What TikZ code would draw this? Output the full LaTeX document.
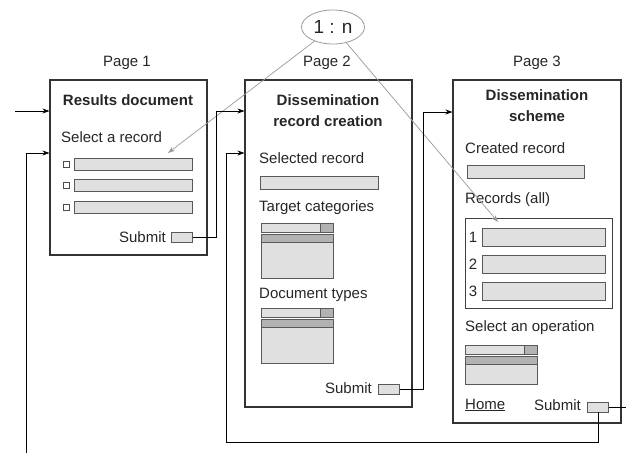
\documentclass[tikz,border=0pt]{standalone}
\usepackage{fontspec}
\setmainfont{Liberation Sans}
\usetikzlibrary{shapes.geometric,arrows.meta}

% list box with a drop-down bar on top: x, top y, width, body height
\newcommand{\listwidget}[4]{%
    \draw[field] (#1,#2) rectangle ++(#3,9);
    \draw[field, fill=black!30] (#1+#3-13,#2) rectangle ++(13,9);
    \draw[field] (#1,#2+11) rectangle ++(#3,#4);
    \draw[field, fill=black!30] (#1,#2+11) rectangle ++(#3,8);
}

\begin{document}
\begin{tikzpicture}[
    x=1pt, y=-1pt,
    % Style for the page frames
    page/.style={
        draw=black!80,
        line width=1.1pt,
        inner sep=0pt
    },
    % Style for the grey input fields
    field/.style={
        draw=black!65,
        fill=black!12,
        line width=0.6pt,
        inner sep=0pt
    },
    % Style for the submit buttons
    button/.style={
        field,
        minimum width=21,
        minimum height=10
    },
    % Style for the check boxes
    checkbox/.style={
        draw=black!70,
        line width=0.5pt,
        inner sep=0pt,
        minimum size=6
    },
    % Style for plain texts
    txt/.style={
        font=\fontsize{15}{17}\selectfont,
        text=black!85,
        inner sep=0pt
    },
    % Style for the page titles
    pageTitle/.style={
        font=\fontsize{15}{21}\selectfont\bfseries,
        text=black!85,
        align=center,
        inner sep=0pt
    },
    % Style for the navigation links
    link/.style={
        draw=black,
        line width=0.7pt,
        -{Stealth[length=7pt,width=5pt]}
    },
    % Style for the 1:n relation
    relation/.style={
        draw=black!40,
        line width=0.7pt,
        -{Stealth[length=7pt,width=5pt]}
    }
]
    \useasboundingbox (0,0) rectangle (626,453);

    % --- PAGE 1 ---
    \node[page, minimum width=157, minimum height=175] (p1) at (128.5,167.5) {};
    \node[txt] (p1lbl) at (127,63) {Page 1};
    \node[pageTitle] (p1title) at (128,100) {Results document};
    \node[txt, anchor=west] (select) at (61,137) {Select a record};
    \foreach \i/\y in {1/164,2/185,3/207} {
        \node[checkbox] (c\i) at (66,\y) {};
        \node[field, minimum width=118, minimum height=12] (f\i) at (133,\y) {};
    }
    \node[txt, anchor=east] (s1lbl) at (166,237) {Submit};
    \node[button] (sub1) at (182,237) {};

    % --- PAGE 2 ---
    \node[page, minimum width=167, minimum height=327] (p2) at (328.5,243.5) {};
    \node[txt] (p2lbl) at (327,63) {Page 2};
    \node[pageTitle] (p2title) at (328,111) {Dissemination\\record creation};
    \node[txt, anchor=west] (selrec) at (259,158) {Selected record};
    \node[field, minimum width=118, minimum height=13] (selfield) at (319,183) {};
    \node[txt, anchor=west] (targets) at (259,208) {Target categories};
    \listwidget{261}{223}{72}{44}
    \node[txt, anchor=west] (doctypes) at (259,295) {Document types};
    \listwidget{261}{308}{72}{44}
    \node[txt, anchor=east] (s2lbl) at (372,388) {Submit};
    \node[button] (sub2) at (389,389) {};

    % --- PAGE 3 ---
    \node[page, minimum width=168, minimum height=343] (p3) at (537,251.5) {};
    \node[txt] (p3lbl) at (537,63) {Page 3};
    \node[pageTitle] (p3title) at (537,106) {Dissemination\\scheme};
    \node[txt, anchor=west] (created) at (465,148) {Created record};
    \node[field, minimum width=117, minimum height=13] (crfield) at (525.5,171.5) {};
    \node[txt, anchor=west] (allrecs) at (465,200) {Records (all)};
    \node[draw=black!75, line width=0.8pt, inner sep=0pt,
          minimum width=147, minimum height=90] (recs) at (538.5,263) {};
    \foreach \i/\y in {1/237,2/264,3/291} {
        \node[txt] (n\i) at (473,\y) {\i};
        \node[field, minimum width=123, minimum height=18] (r\i) at (543.5,\y) {};
    }
    \node[txt, anchor=west] (operation) at (465,328) {Select an operation};
    \listwidget{465}{345}{72}{28}
    \node[txt, anchor=west] (home) at (465,405) {\underline{Home}};
    \node[txt, anchor=east] (s3lbl) at (581,405) {Submit};
    \node[button] (sub3) at (598,407) {};

    % --- 1 : n RELATION ---
    \node[draw=black!40, line width=0.8pt, ellipse, inner sep=0pt,
          minimum width=63, minimum height=34, txt,
          font=\fontsize{19}{21}\selectfont] (ratio) at (333,27) {1 : n};
    \coordinate (oneEnd) at (168,153);
    \coordinate (manyEnd) at (498,222);
    \draw[relation] (ratio) -- (oneEnd);
    \draw[relation] (ratio) -- (manyEnd);

    % --- NAVIGATION ---
    \coordinate (entry) at (15,111);
    \coordinate (back) at (26,453);
    \coordinate (exit) at (626,407);
    \draw[link] (entry) -- (p1.west |- entry);
    \draw[link] (back) -- (26,153) -- (p1.west |- 0,153);
    \draw[link] (sub1.east) -- (216,237) -- (216,111) -- (p2.west |- 0,111);
    \draw[link] (sub2.east) -- (423,389) -- (423,112) -- (p3.west |- 0,112);
    \draw[link] (sub3.south) -- (598,442) -- (226,442) -- (226,153) -- (p2.west |- 0,153);
    \draw[line width=0.7pt] (sub3.east) -- (exit);

\end{tikzpicture}
\end{document}
